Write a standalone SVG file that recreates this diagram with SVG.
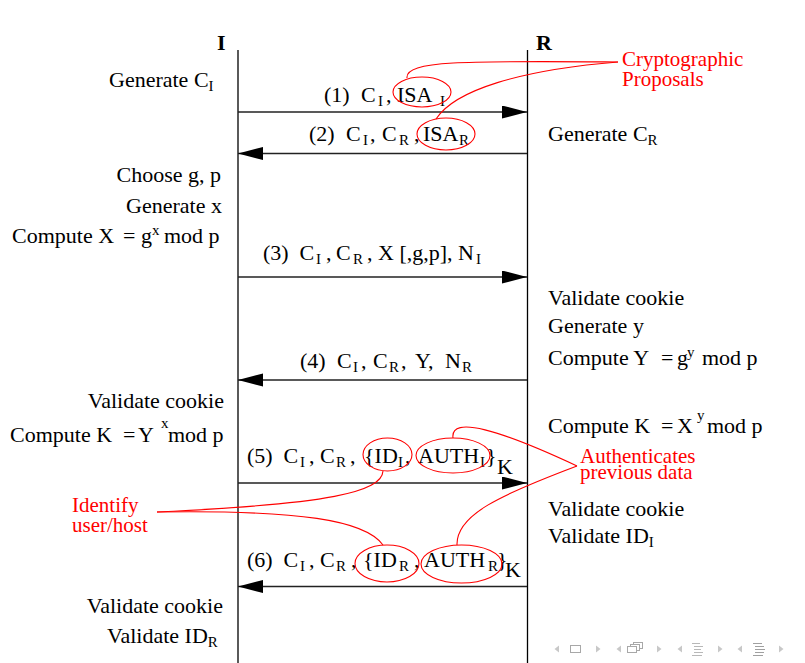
<svg xmlns="http://www.w3.org/2000/svg" width="805" height="663" viewBox="0 0 805 663">
<style>
text{font-family:"Liberation Serif","Times New Roman",serif;font-size:22px;fill:#000}
.b{font-weight:bold}
.s{font-size:15px}
.red{font-family:"Liberation Serif","Times New Roman",serif;fill:#ff0000;font-size:21px}
.life{stroke:#000;stroke-width:1.3;fill:none}
.msg{stroke:#222;stroke-width:1.4;fill:none;marker-end:url(#ah)}
.note{stroke:#ff0000;stroke-width:1.1;fill:none}
.tri{fill:#c8c8c8}
.nav{stroke:#a8a8a8;stroke-width:1;fill:#fff}
.navl{stroke:#b8b8b8;stroke-width:1}
</style>
<defs>
<marker id="ah" markerUnits="userSpaceOnUse" markerWidth="26" markerHeight="14" refX="25" refY="6.5" orient="auto">
<path d="M0,0 L25,6.5 L0,13 Z" fill="#000"/>
</marker>
</defs>
<rect width="805" height="663" fill="#fff"/>

<g id="node-I">
<text class="b" x="217" y="50">I</text>
<line class="life" x1="238" y1="50" x2="238" y2="663"/>
</g>
<g id="node-R">
<text class="b" x="536" y="50">R</text>
<line class="life" x1="527.5" y1="50" x2="527.5" y2="663"/>
</g>

<g id="connectors">
<line class="msg" x1="238" y1="112" x2="527" y2="112"/>
<line class="msg" x1="527" y1="153.5" x2="238" y2="153.5"/>
<line class="msg" x1="238" y1="277" x2="527" y2="277"/>
<line class="msg" x1="527" y1="380" x2="238" y2="380"/>
<line class="msg" x1="238" y1="483" x2="527" y2="483"/>
<line class="msg" x1="527" y1="586.5" x2="238" y2="586.5"/>
</g>

<g id="msg-labels">
<text x="324" y="102">(1)</text><text x="361" y="102">C</text><text class="s" x="378" y="106">I</text><text x="386" y="102">,</text><text x="397" y="102">ISA</text><text class="s" x="440" y="106">I</text>
<text x="309" y="141">(2)</text><text x="346" y="141">C</text><text class="s" x="363" y="145">I</text><text x="370" y="141">,</text><text x="382" y="141">C</text><text class="s" x="399" y="145">R</text><text x="414" y="141">,</text><text x="423" y="141">ISA</text><text class="s" x="459" y="145">R</text>
<text x="263" y="260">(3)</text><text x="299.5" y="260">C</text><text class="s" x="316" y="264">I</text><text x="326" y="260">,</text><text x="336" y="260">C</text><text class="s" x="353" y="264">R</text><text x="367" y="260">,</text><text x="378" y="260">X [,g,p],</text><text x="458" y="260">N</text><text class="s" x="476" y="264">I</text>
<text x="300" y="368">(4)</text><text x="337" y="368">C</text><text class="s" x="353" y="372">I</text><text x="361" y="368">,</text><text x="373" y="368">C</text><text class="s" x="389" y="372">R</text><text x="401" y="368">,</text><text x="415" y="368">Y,</text><text x="445" y="368">N</text><text class="s" x="462" y="372">R</text>
<text x="247" y="463">(5)</text><text x="283.5" y="463">C</text><text class="s" x="300" y="467">I</text><text x="309" y="463">,</text><text x="320" y="463">C</text><text class="s" x="336" y="467">R</text><text x="350" y="463">,</text><text x="364" y="463">{ID</text><text class="s" x="398" y="467">I</text><text x="405" y="463">,</text><text x="418" y="463">AUTH</text><text class="s" x="480" y="467">I</text><text x="486" y="463">}</text><text x="497" y="474">K</text>
<text x="247" y="567">(6)</text><text x="283.5" y="567">C</text><text class="s" x="300" y="571">I</text><text x="309" y="567">,</text><text x="320" y="567">C</text><text class="s" x="336" y="571">R</text><text x="351" y="567">,</text><text x="363" y="567">{ID</text><text class="s" x="399" y="571">R</text><text x="414" y="567">,</text><text x="424" y="567">AUTH</text><text class="s" x="488" y="571">R</text><text x="497" y="567">}</text><text x="505" y="577">K</text>
</g>

<g id="I-actions">
<text x="109" y="87">Generate C<tspan class="s" dy="4">I</tspan></text>
<text x="221" y="182" text-anchor="end">Choose g, p</text>
<text x="222" y="213" text-anchor="end">Generate x</text>
<text x="12" y="243">Compute X</text><text x="123" y="243">=</text><text x="141" y="243">g</text><text class="s" x="152" y="235">x</text><text x="164" y="243">mod p</text>
<text x="224" y="408" text-anchor="end">Validate cookie</text>
<text x="10" y="442">Compute K</text><text x="123" y="442">=</text><text x="138" y="442">Y</text><text class="s" x="161" y="428">x</text><text x="168" y="442">mod p</text>
<text x="223" y="613" text-anchor="end">Validate cookie</text>
<text x="107" y="643">Validate ID<tspan class="s" dy="4">R</tspan></text>
</g>

<g id="R-actions">
<text x="548" y="141">Generate C<tspan class="s" dy="4">R</tspan></text>
<text x="548" y="305">Validate cookie</text>
<text x="548" y="333">Generate y</text>
<text x="548" y="365">Compute Y</text><text x="661" y="365">=</text><text x="677" y="365">g</text><text class="s" x="687" y="357">y</text><text x="702" y="365">mod p</text>
<text x="548" y="433">Compute K</text><text x="661" y="433">=</text><text x="677" y="433">X</text><text class="s" x="697" y="420">y</text><text x="707" y="433">mod p</text>
<text x="548" y="516">Validate cookie</text>
<text x="548" y="543">Validate ID<tspan class="s" dy="4">I</tspan></text>
</g>

<g id="note-crypto">
<ellipse class="note" cx="422" cy="92" rx="29" ry="15"/>
<ellipse class="note" cx="446" cy="134" rx="29" ry="16"/>
<path class="note" d="M407,78 C405,60 470,61 618,62"/>
<path class="note" d="M436,119 C455,90 520,70 618,62"/>
<text class="red" x="622" y="66">Cryptographic</text>
<text class="red" x="622" y="86">Proposals</text>
</g>

<g id="note-auth">
<ellipse class="note" cx="453" cy="455.5" rx="37" ry="17.5"/>
<ellipse class="note" cx="461.5" cy="564" rx="40.5" ry="19"/>
<path class="note" d="M453,438 C450,415 500,430 577,466"/>
<path class="note" d="M457,545 C456,515 500,495 577,466"/>
<text class="red" x="580" y="463">Authenticates</text>
<text class="red" x="580" y="479">previous data</text>
</g>

<g id="note-identify">
<ellipse class="note" cx="387.5" cy="454.5" rx="24.5" ry="16.5"/>
<ellipse class="note" cx="387" cy="563.5" rx="32" ry="18.5"/>
<path class="note" d="M383,471 C382,492 330,504 157,512"/>
<path class="note" d="M383,545 C365,520 300,510 157,512"/>
<text class="red" x="72" y="512">Identify</text>
<text class="red" x="72" y="532">user/host</text>
</g>

<g id="navigation">
<polygon class="tri" points="559,645.5 554.5,649 559,652.5"/>
<rect class="nav" x="570.5" y="645.5" width="10" height="7"/>
<polygon class="tri" points="596,645.5 600.5,649 596,652.5"/>
<polygon class="tri" points="621,645.5 616.5,649 621,652.5"/>
<rect class="nav" x="633.5" y="642.5" width="9" height="6"/>
<rect class="nav" x="630.5" y="644.5" width="9" height="6"/>
<rect class="nav" x="627.5" y="646.5" width="9" height="6"/>
<polygon class="tri" points="657,645.5 661.5,649 657,652.5"/>
<polygon class="tri" points="682,645.5 677.5,649 682,652.5"/>
<g class="navl"><line x1="692" y1="643.5" x2="700" y2="643.5"/><line x1="694" y1="646.5" x2="703" y2="646.5"/><line x1="694" y1="649.5" x2="701" y2="649.5"/><line x1="694" y1="652.5" x2="703" y2="652.5"/><line x1="692" y1="655.5" x2="702" y2="655.5"/></g>
<polygon class="tri" points="718,645.5 722.5,649 718,652.5"/>
<polygon class="tri" points="742,645.5 737.5,649 742,652.5"/>
<g class="navl" style="stroke:#a0a0a0"><line x1="753" y1="643.5" x2="762" y2="643.5"/><line x1="755" y1="646.5" x2="764" y2="646.5"/><line x1="755" y1="649.5" x2="765" y2="649.5"/><line x1="755" y1="652.5" x2="764" y2="652.5"/><line x1="753" y1="655.5" x2="763" y2="655.5"/></g>
<polygon class="tri" points="779,645.5 783.5,649 779,652.5"/>
</g>
</svg>
